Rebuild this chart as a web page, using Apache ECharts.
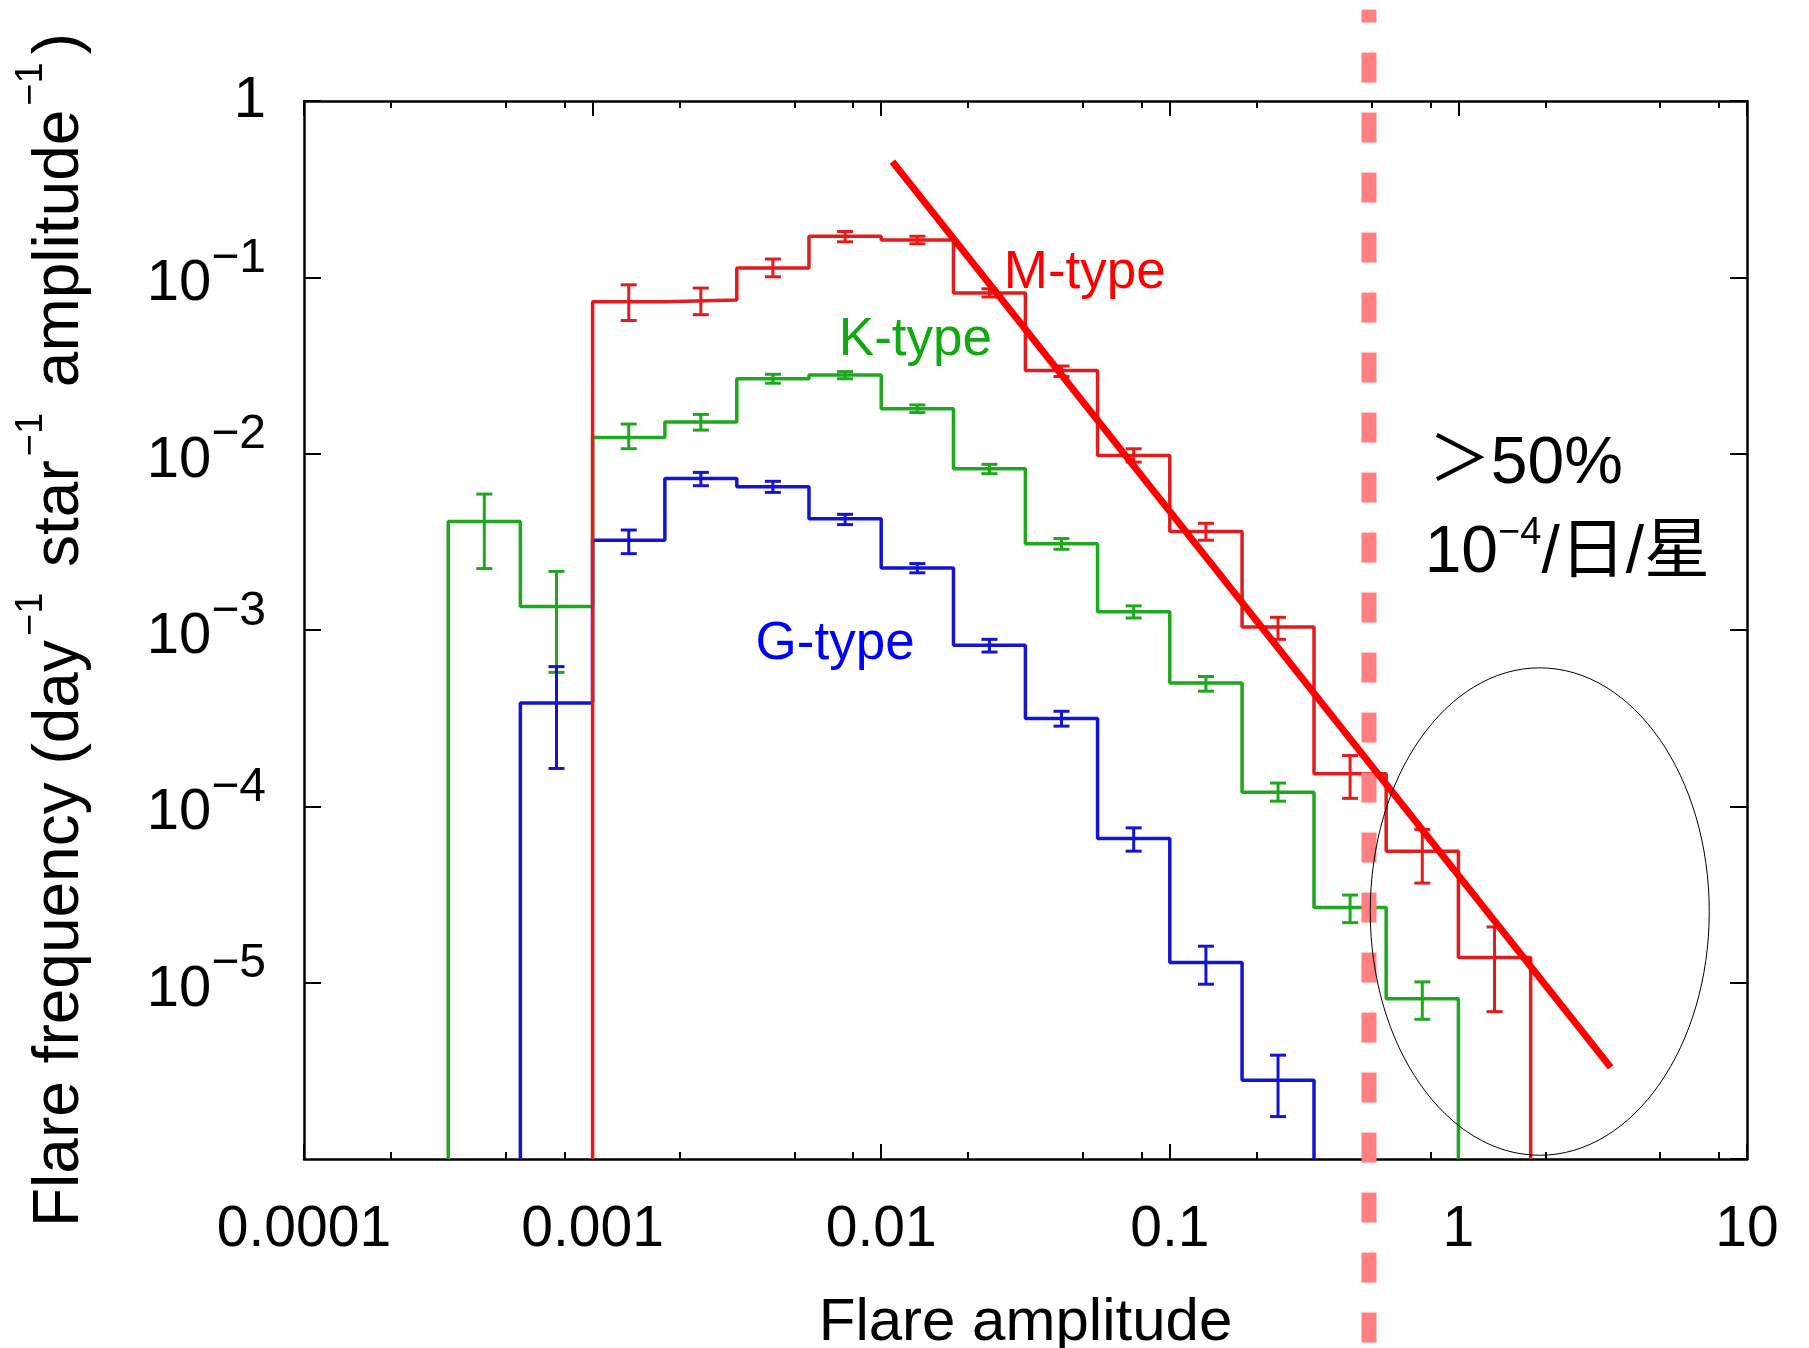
<!DOCTYPE html>
<html>
<head>
<meta charset="utf-8">
<title>Flare frequency vs amplitude</title>
<script src="https://cdn.jsdelivr.net/npm/echarts@6/dist/echarts.min.js"></script>
<style>
  html, body { margin: 0; padding: 0; background: #fff; }
  #chart { width: 1809px; height: 1348px; }
</style>
</head>
<body>
<div id="chart"></div>
<script>
// histogram bin edges (flare amplitude), 0.25 dex bins
const binEdges = [0.000316, 0.000562, 0.001, 0.00178, 0.00316, 0.00562, 0.01, 0.0178, 0.0316, 0.0562, 0.1, 0.178, 0.316, 0.562, 1, 1.78]

// M-type: first bin starts at binEdges[2]
const mStart = 2
const mValues = [0.0726, 0.0743, 0.113, 0.171, 0.163, 0.0816, 0.0296, 0.00977, 0.00362, 0.00104, 0.000153, 0.0000556, 0.0000139]
const mHigh = [0.0907, 0.0869, 0.127, 0.182, 0.171, 0.0861, 0.0314, 0.01066, 0.00403, 0.00118, 0.000194, 0.000074, 0.0000207]
const mLow = [0.0569, 0.0614, 0.1007, 0.159, 0.155, 0.0774, 0.0274, 0.00896, 0.00323, 0.000885, 0.000111, 0.0000367, 0.00000685]

// K-type: first bin starts at binEdges[0]
const kStart = 0
const kValues = [0.00412, 0.00136, 0.01234, 0.0151, 0.0266, 0.0279, 0.018, 0.0082, 0.00308, 0.00127, 0.0005, 0.00012, 0.0000267, 0.0000081]
const kHigh = [0.0059, 0.00215, 0.01472, 0.0167, 0.0282, 0.0292, 0.0189, 0.0087, 0.0033, 0.00137, 0.000545, 0.0001355, 0.0000314, 0.0000101]
const kLow = [0.00223, 0.000575, 0.01067, 0.0136, 0.0251, 0.0266, 0.0171, 0.0077, 0.00287, 0.00117, 0.00045, 0.000107, 0.0000219, 0.0000062]

// G-type: first bin starts at binEdges[1]
const gStart = 1
const gValues = [0.000386, 0.00323, 0.00722, 0.0065, 0.00427, 0.00225, 0.00082, 0.000315, 0.0000656, 0.000013, 0.0000028]
const gHigh = [0.00062, 0.00369, 0.00783, 0.00697, 0.00453, 0.00238, 0.000885, 0.000346, 0.0000755, 0.0000161, 0.00000388]
const gLow = [0.000164, 0.00271, 0.00658, 0.00603, 0.00396, 0.00211, 0.00075, 0.000285, 0.0000557, 0.0000098, 0.00000174]

// power-law fit drawn over the M-type histogram
const fitLine = [[0.01094, 0.453], [3.37, 0.00000331]]

// vertical dashed limit line, runs past the frame
const limitLine = [[0.49, 3.3], [0.49, 0.000000085]]

// ellipse around the largest flares (data-space bounding box)
const ellipseBox = { xMin: 0.495, xMax: 7.4, yMin: 0.00000105, yMax: 0.00061 }

// axis ticks
const xTickLabels = ['0.0001', '0.001', '0.01', '0.1', '1', '10']
const yTickPowers = ['', '−1', '−2', '−3', '−4', '−5']
const xMinorTicks = [0.0002, 0.0005, 0.0008, 0.002, 0.005, 0.008, 0.02, 0.05, 0.08, 0.2, 0.5, 0.8, 2, 5, 8]

const font = '"Liberation Sans", Arial, Helvetica, sans-serif'
const cjkFont = '"Liberation Sans", "Noto Sans CJK SC", sans-serif'
const yFloor = 0.000001

const stepPoints = (start, values) => {
  const pts = [[binEdges[start], yFloor]]
  values.forEach((v, i) => {
    pts.push([binEdges[start + i], v])
    pts.push([binEdges[start + i + 1], v])
  })
  pts.push([binEdges[start + values.length], yFloor])
  return pts
}

const errorPoints = (start, low, high) =>
  low.map((lo, i) => [Math.sqrt(binEdges[start + i] * binEdges[start + i + 1]), lo, high[i]])

const errorSeries = (data, color) => ({
  type: 'custom',
  data,
  z: 3,
  encode: { x: 0, y: [1, 2] },
  renderItem: (params, api) => {
    const x = api.value(0)
    const top = api.coord([x, api.value(2)])
    const bot = api.coord([x, api.value(1)])
    const w = 8
    const style = { stroke: color, lineWidth: 3 }
    return {
      type: 'group',
      children: [
        { type: 'line', shape: { x1: top[0], y1: top[1], x2: bot[0], y2: bot[1] }, style },
        { type: 'line', shape: { x1: top[0] - w, y1: top[1], x2: top[0] + w, y2: top[1] }, style },
        { type: 'line', shape: { x1: bot[0] - w, y1: bot[1], x2: bot[0] + w, y2: bot[1] }, style }
      ]
    }
  }
})

const stepSeries = (data, color) => ({
  type: 'line',
  data,
  z: 2,
  showSymbol: false,
  symbol: 'none',
  lineStyle: { color, width: 3.5 },
  clip: false
})

const red = '#e31b1c'
const green = '#1ea81e'
const blue = '#1414d4'

const baseX = {
  type: 'log',
  logBase: 10,
  min: 0.0001,
  max: 10,
  splitLine: { show: false },
  axisLine: { lineStyle: { color: '#000', width: 2.5 } },
  axisTick: { inside: true, length: 15, lineStyle: { color: '#000', width: 2 } },
  axisLabel: { show: false }
}
const baseY = {
  type: 'log',
  logBase: 10,
  min: 0.000001,
  max: 1,
  splitLine: { show: false },
  axisLine: { lineStyle: { color: '#000', width: 2.5 } },
  axisTick: { inside: true, length: 17, lineStyle: { color: '#000', width: 2 } },
  axisLabel: { show: false }
}
const minorX = pos => Object.assign({}, baseX, {
  position: pos,
  axisLine: { show: false },
  axisTick: { inside: true, length: 7, customValues: xMinorTicks, lineStyle: { color: '#000', width: 2 } }
})

const chart = echarts.init(document.getElementById('chart'))
chart.setOption({
  animation: false,
  backgroundColor: '#fff',
  grid: { left: 304, right: 62, top: 101, bottom: 189, containLabel: false, outerBoundsMode: 'none' },
  xAxis: [
    Object.assign({}, baseX, {
      position: 'bottom',
      name: 'Flare amplitude',
      nameLocation: 'middle',
      nameGap: 134,
      nameTextStyle: { fontFamily: font, fontSize: 60, color: '#000' },
      axisLabel: {
        show: true,
        margin: 43,
        fontFamily: font,
        fontSize: 57,
        color: '#000',
        formatter: v => xTickLabels[Math.round(Math.log10(v)) + 4] || ''
      }
    }),
    Object.assign({}, baseX, { position: 'top' }),
    minorX('bottom'),
    minorX('top')
  ],
  yAxis: [
    Object.assign({}, baseY, {
      position: 'left',
      name: '{b|Flare frequency (day}{s|−1}{b| star}{s|−1}{b| amplitude}{s|−1}{b|)}',
      nameLocation: 'middle',
      nameRotate: 90,
      nameGap: 197,
      nameTextStyle: {
        color: '#000',
        rich: {
          b: { fontFamily: font, fontSize: 64, lineHeight: 94, color: '#000' },
          s: { fontFamily: font, fontSize: 38, lineHeight: 38, verticalAlign: 'top', padding: [0, 8, 0, 4], color: '#000' }
        }
      },
      axisLabel: {
        show: true,
        margin: 38,
        showMinLabel: false,
        formatter: v => {
          const e = -Math.round(Math.log10(v))
          if (e === 0) return '{o|1}'
          if (e >= yTickPowers.length) return ''
          return '{b|10}{s|' + yTickPowers[e] + '}'
        },
        rich: {
          o: { fontFamily: font, fontSize: 58, lineHeight: 103, color: '#000' },
          b: { fontFamily: font, fontSize: 58, lineHeight: 103, padding: [14, 0, 0, 0], color: '#000' },
          s: { fontFamily: font, fontSize: 48, lineHeight: 48, verticalAlign: 'top', padding: [9, 0, 0, 0], color: '#000' }
        }
      }
    }),
    Object.assign({}, baseY, { position: 'right' })
  ],
  series: [
    stepSeries(stepPoints(kStart, kValues), green),
    stepSeries(stepPoints(gStart, gValues), blue),
    stepSeries(stepPoints(mStart, mValues), red),
    errorSeries(errorPoints(kStart, kLow, kHigh), green),
    errorSeries(errorPoints(gStart, gLow, gHigh), blue),
    errorSeries(errorPoints(mStart, mLow, mHigh), red),
    {
      type: 'line',
      data: limitLine,
      z: 4,
      showSymbol: false,
      symbol: 'none',
      clip: false,
      lineStyle: { color: '#ff8080', width: 15, type: [30, 30], dashOffset: 17, cap: 'butt' }
    },
    {
      type: 'line',
      data: fitLine,
      z: 5,
      showSymbol: false,
      symbol: 'none',
      clip: false,
      lineStyle: { color: '#ff0000', width: 7 }
    }
  ]
})

// text labels and the ellipse are anchored in data space
const notes = [
  { at: [0.0266, 0.1058], text: '{t|M-type}', color: '#ff0000' },
  { at: [0.00713, 0.0439], text: '{t|K-type}', color: '#12a812' },
  { at: [0.00367, 0.00083], text: '{t|G-type}', color: '#0000ff' },
  { at: [0.79, 0.0087], text: '{c|＞}{n|50%}', color: '#000' },
  { at: [0.764, 0.00269], text: '{n|10}{s|−4}{n|/日/星}', color: '#000' }
]

const placeAnnotations = () => {
  const toPx = p => chart.convertToPixel({ xAxisIndex: 0, yAxisIndex: 0 }, p)
  const tl = toPx([ellipseBox.xMin, ellipseBox.yMax])
  const br = toPx([ellipseBox.xMax, ellipseBox.yMin])
  const graphics = [{
    type: 'ellipse',
    z: 100,
    shape: { cx: (tl[0] + br[0]) / 2, cy: (tl[1] + br[1]) / 2, rx: (br[0] - tl[0]) / 2, ry: (br[1] - tl[1]) / 2 },
    style: { fill: 'none', stroke: '#000', lineWidth: 1 }
  }]
  notes.forEach(n => {
    const p = toPx(n.at)
    graphics.push({
      type: 'text',
      z: 100,
      x: p[0],
      y: p[1],
      style: {
        text: n.text,
        align: 'left',
        verticalAlign: 'middle',
        fill: n.color,
        rich: {
          t: { fontFamily: font, fontSize: 53, lineHeight: 53, fill: n.color },
          c: { fontFamily: cjkFont, fontSize: 62, lineHeight: 79, fill: n.color },
          n: { fontFamily: cjkFont, fontSize: 66, lineHeight: 79, fill: n.color },
          s: { fontFamily: font, fontSize: 38, lineHeight: 38, verticalAlign: 'top', fill: n.color }
        }
      }
    })
  })
  chart.setOption({ graphic: graphics })
}
placeAnnotations()
</script>
</body>
</html>
